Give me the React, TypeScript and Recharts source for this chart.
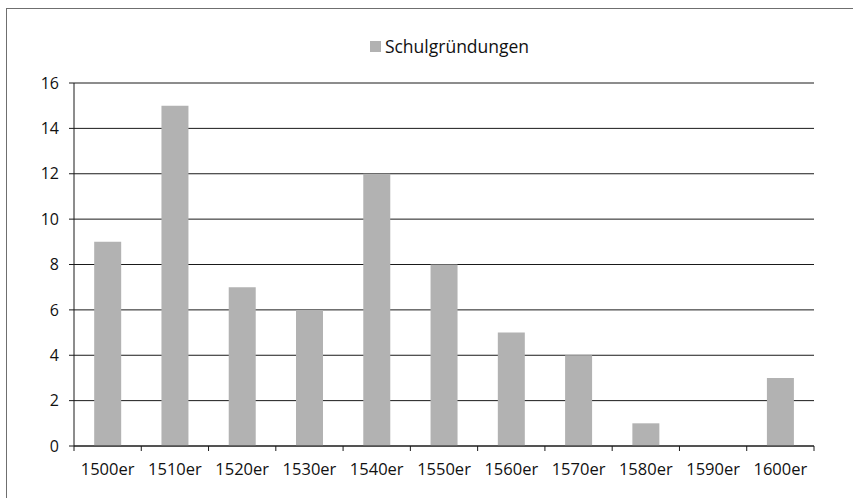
import React from 'react';
import { BarChart, Bar, XAxis, YAxis, CartesianGrid } from 'recharts';

// Jahrzehnte und Anzahl der Schulgründungen
const decades = ['1500er', '1510er', '1520er', '1530er', '1540er', '1550er', '1560er', '1570er', '1580er', '1590er', '1600er'];
const foundings = [9, 15, 7, 6, 12, 8, 5, 4, 1, 0, 3];
const yTicks = [0, 2, 4, 6, 8, 10, 12, 14, 16];
const seriesName = 'Schulgründungen';

const data = decades.map((decade, i) => ({ decade, value: foundings[i] }));

const W = 853;
const H = 498;
const PLOT_LEFT = 74;
const PLOT_RIGHT = 814;
const PLOT_TOP = 83;
const PLOT_BOTTOM = 446;
const BAND = (PLOT_RIGHT - PLOT_LEFT) / decades.length;

const FONT = '"Open Sans", "Noto Sans", sans-serif';
const BAR_COLOR = '#b2b2b2';
const LINE_COLOR = '#1a1a1a';
const TEXT_COLOR = '#111';

// x-Achse: Teilstriche an den Kategoriegrenzen, Beschriftung mittig
const XTick = ({ x, y, payload, index }: any) => {
  const left = x - BAND / 2;
  const isLast = index === decades.length - 1;
  return (
    <g>
      <line x1={left} y1={y} x2={left} y2={y + 5} stroke={LINE_COLOR} />
      {isLast && <line x1={left + BAND} y1={y} x2={left + BAND} y2={y + 5} stroke={LINE_COLOR} />}
      <text x={x} y={y + 29} textAnchor="middle" fontSize={16.5} fontFamily={FONT} fill={TEXT_COLOR}>
        {payload.value}
      </text>
    </g>
  );
};

export default function App() {
  return (
    <div style={{ position: 'absolute', left: 0, top: 0, width: W, height: H, background: '#fff', overflow: 'hidden' }}>
      {/* Rahmen (rechts und unten abgeschnitten) */}
      <div
        style={{
          position: 'absolute',
          left: 6,
          top: 8,
          width: W,
          height: H,
          borderLeft: '1.5px solid #6f6f6f',
          borderTop: '1.5px solid #6f6f6f',
        }}
      />

      {/* Legende */}
      <div
        style={{
          position: 'absolute',
          left: 23,
          top: 34,
          width: W,
          display: 'flex',
          justifyContent: 'center',
          alignItems: 'center',
          fontFamily: FONT,
          fontSize: 17.5,
          color: TEXT_COLOR,
        }}
      >
        <div style={{ width: 11, height: 11, background: BAR_COLOR, marginRight: 4 }} />
        <span>{seriesName}</span>
      </div>

      <div style={{ position: 'absolute', left: 0, top: 0 }}>
        <BarChart
          width={W}
          height={H}
          data={data}
          margin={{ top: PLOT_TOP, right: W - PLOT_RIGHT, bottom: H - PLOT_BOTTOM - 40, left: 0 }}
          barCategoryGap="30%"
        >
          <CartesianGrid vertical={false} stroke={LINE_COLOR} strokeWidth={1} />
          <XAxis
            dataKey="decade"
            interval={0}
            height={40}
            tickSize={0}
            tickMargin={0}
            tick={<XTick />}
            axisLine={{ stroke: LINE_COLOR }}
            tickLine={false}
          />
          <YAxis
            width={PLOT_LEFT}
            domain={[0, 16]}
            ticks={yTicks}
            interval={0}
            tickSize={5}
            tickMargin={10}
            axisLine={{ stroke: LINE_COLOR }}
            tickLine={{ stroke: LINE_COLOR }}
            tick={{ fontSize: 16, fontFamily: FONT, fill: TEXT_COLOR }}
          />
          <Bar dataKey="value" name={seriesName} fill={BAR_COLOR} isAnimationActive={false} />
        </BarChart>
      </div>
    </div>
  );
}
